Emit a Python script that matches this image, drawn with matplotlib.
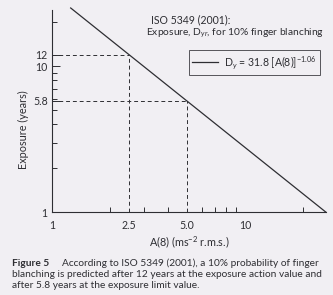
import numpy as np
import matplotlib
matplotlib.use("Agg")
import matplotlib.pyplot as plt
from matplotlib.ticker import FixedLocator, LogLocator, NullFormatter, FixedFormatter

# Data
coef = 31.8
expo = -1.06
a_vals = np.array([1.25, 26.2])          # A(8) range of the line
marks_a = [2.5, 5.0]                      # exposure action / limit values
marks_d = [12, 5.8]                       # years
xticks = [1, 2.5, 5.0, 10]
xtick_labels = ["1", "2.5", "5.0", "10"]
yticks = [1, 5.8, 10, 12]
ytick_labels = ["1", "5.8", "10", "12"]

bg = "#f1eff3"
ink = "#2e2e33"

plt.rcParams['font.family'] = ['Lato', 'DejaVu Sans']
plt.rcParams['mathtext.fontset'] = 'custom'
plt.rcParams['mathtext.rm'] = 'Lato'
plt.rcParams['mathtext.it'] = 'Lato:italic'
plt.rcParams['mathtext.bf'] = 'Lato:bold'

fig = plt.figure(figsize=(3.33, 2.95), dpi=100, facecolor=bg)
ax = fig.add_axes([0.156, 0.281, 0.823, 0.685])
ax.set_facecolor(bg)
ax.set_xscale('log')
ax.set_yscale('log')
ax.set_xlim(1, 26.2)
ax.set_ylim(1, 24.3)

aa = np.geomspace(a_vals[0], a_vals[1], 200)
line, = ax.plot(aa, coef * aa ** expo, color=ink, lw=0.9, clip_on=False)

for a, d in zip(marks_a, marks_d):
    ax.plot([1, a], [d, d], color=ink, lw=0.7, ls=(0, (4, 3)))
    ax.plot([a, a], [1, d], color=ink, lw=0.7, ls=(0, (4, 3)))

for s in ['top', 'right']:
    ax.spines[s].set_visible(False)
for s in ['left', 'bottom']:
    ax.spines[s].set_color(ink)
    ax.spines[s].set_linewidth(0.8)

ax.xaxis.set_major_locator(FixedLocator(xticks))
ax.xaxis.set_major_formatter(FixedFormatter(xtick_labels))
ax.yaxis.set_major_locator(FixedLocator(yticks))
ax.yaxis.set_major_formatter(FixedFormatter(ytick_labels))
ax.xaxis.set_minor_locator(LogLocator(base=10, subs=np.arange(2, 10)))
ax.yaxis.set_minor_locator(LogLocator(base=10, subs=np.arange(2, 10)))
ax.xaxis.set_minor_formatter(NullFormatter())
ax.yaxis.set_minor_formatter(NullFormatter())
ax.tick_params(which='both', direction='in', color=ink, width=0.7, labelcolor=ink, labelsize=7.6)
ax.tick_params(axis='x', which='major', length=0, pad=6)
ax.tick_params(axis='x', which='minor', length=3.5)
ax.tick_params(axis='y', which='major', length=6, pad=3)
ax.tick_params(axis='y', which='minor', length=3.5)

ax.set_xlabel(r"A(8) (ms$^{-2}$ r.m.s.)", fontsize=7.8, color=ink, labelpad=2)
ax.set_ylabel("Exposure (years)", fontsize=7.8, color=ink)
ax.yaxis.set_label_coords(-0.085, 0.41)

fig.text(0.453, 0.932, "ISO 5349 (2001):", fontsize=7.6, color=ink, va='center')
fig.text(0.972, 0.888, r"Exposure, D$_{yr}$, for 10% finger blanching", fontsize=7.4,
         color=ink, va='center', ha='right')

leg = ax.legend([line], [r"D$_{y}$ = 31.8 [A(8)]$^{-1.06}$"], loc='upper right',
                bbox_to_anchor=(0.978, 0.847), bbox_transform=fig.transFigure,
                fontsize=7.6, frameon=True, fancybox=False, handlelength=2.4,
                borderpad=0.35, handletextpad=0.6, labelcolor=ink)
leg.get_frame().set_edgecolor(ink)
leg.get_frame().set_linewidth(0.7)
leg.get_frame().set_facecolor(bg)

cap_size = 7.3
fig.text(0.036, 0.107, "Figure 5", fontsize=cap_size, color=ink, fontweight='bold', va='center')
fig.text(0.036 + 0.150, 0.107, "According to ISO 5349 (2001), a 10% probability of finger",
         fontsize=cap_size, color=ink, va='center')
fig.text(0.036, 0.069, "blanching is predicted after 12 years at the exposure action value and",
         fontsize=cap_size, color=ink, va='center')
fig.text(0.036, 0.031, "after 5.8 years at the exposure limit value.",
         fontsize=cap_size, color=ink, va='center')

fig.savefig("out.png", dpi=100, facecolor=bg)
